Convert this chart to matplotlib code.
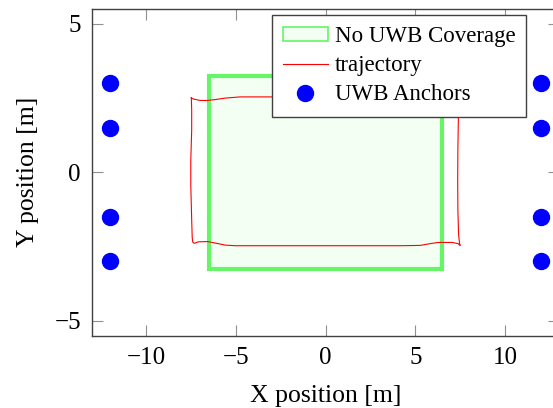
import matplotlib
matplotlib.use("Agg")
import matplotlib.pyplot as plt
from matplotlib.patches import Rectangle
from matplotlib.lines import Line2D

plt.rcParams['font.family'] = ['Liberation Serif', 'DejaVu Serif']

# Region without UWB coverage (corners)
zone_x = [-6.5, 6.5]
zone_y = [-3.25, 3.25]

# Driven trajectory (closed loop)
traj_x = [-7.47, -7.36, -6.97, -6.58, -6.14, -5.58, -4.75, -3.08, 6.38, 6.94, 7.33,
          7.40, 7.40, 7.37, 7.36, 7.37, 7.41, 7.47, 7.50, 7.38, 7.05, 6.66, 6.27,
          5.83, 5.27, 4.16, -5.03, -5.58, -6.14, -6.58, -7.08, -7.31, -7.39, -7.42,
          -7.45, -7.50, -7.50, -7.45, -7.45, -7.47]
traj_y = [2.51, 2.47, 2.42, 2.42, 2.45, 2.50, 2.54, 2.54, 2.54, 2.52, 2.57,
          2.43, 1.93, 0.76, -0.26, -1.27, -2.11, -2.41, -2.46, -2.40, -2.36, -2.36, -2.36,
          -2.40, -2.46, -2.47, -2.47, -2.45, -2.38, -2.33, -2.34, -2.39, -2.35, -2.21,
          -1.61, -0.43, 0.41, 1.42, 2.10, 2.51]

# UWB anchor positions
anchor_x = [-12, -12, -12, -12, 12, 12, 12, 12]
anchor_y = [3.0, 1.5, -1.5, -3.0, 3.0, 1.5, -1.5, -3.0]

xticks = [-10, -5, 0, 5, 10]
yticks = [-5, 0, 5]

fig = plt.figure(figsize=(5.53, 4.08), dpi=100)
ax = fig.add_axes([92 / 553, (408 - 335.7) / 408, (559 - 92) / 553, (335.7 - 9) / 408])

zone_edge = '#66f566'
zone_face = '#f3fff3'
ax.add_patch(Rectangle((zone_x[0], zone_y[0]), zone_x[1] - zone_x[0], zone_y[1] - zone_y[0],
                       facecolor=zone_face, edgecolor=zone_edge, linewidth=3, zorder=2))
ax.plot(traj_x, traj_y, color='red', linewidth=0.8, zorder=3)
ax.plot(anchor_x, anchor_y, 'o', color='blue', markersize=11.5, linestyle='none', zorder=4)

ax.set_xlim(-13, 13)
ax.set_ylim(-5.5, 5.5)
ax.set_xticks(xticks)
ax.set_yticks(yticks)
ax.set_xticklabels(['\u2212' + str(-t) if t < 0 else str(t) for t in xticks])
ax.set_yticklabels(['\u2212' + str(-t) if t < 0 else str(t) for t in yticks])
ax.tick_params(direction='in', length=8, width=0.8, color='#909090', labelsize=18,
               top=True, right=True, pad=8)
for s in ax.spines.values():
    s.set_color('#404040')
    s.set_linewidth(1.0)

ax.set_xlabel('X position [m]', fontsize=18.5, labelpad=12)
ax.set_ylabel('Y position [m]', fontsize=18.5, labelpad=11)

handles = [
    Rectangle((0, 0), 1, 1, facecolor=zone_face, edgecolor=zone_edge, linewidth=1.2),
    Line2D([], [], color='red', linewidth=0.8),
    Line2D([], [], marker='o', color='blue', markersize=11.5, linestyle='none'),
]
labels = ['No UWB Coverage', 'trajectory', 'UWB Anchors']
leg = ax.legend(handles, labels, loc='upper left',
                bbox_to_anchor=((272 - 92) / 467, 1 - (15 - 9) / 326.7),
                fontsize=16.5, frameon=True, fancybox=False, framealpha=1,
                edgecolor='#404040', borderpad=0.48, labelspacing=0.36,
                handlelength=1.95, handleheight=0.6, handletextpad=0.3, borderaxespad=0)
leg.get_frame().set_linewidth(1.0)
leg.set_zorder(10)

fig.savefig('out.png', dpi=100)
